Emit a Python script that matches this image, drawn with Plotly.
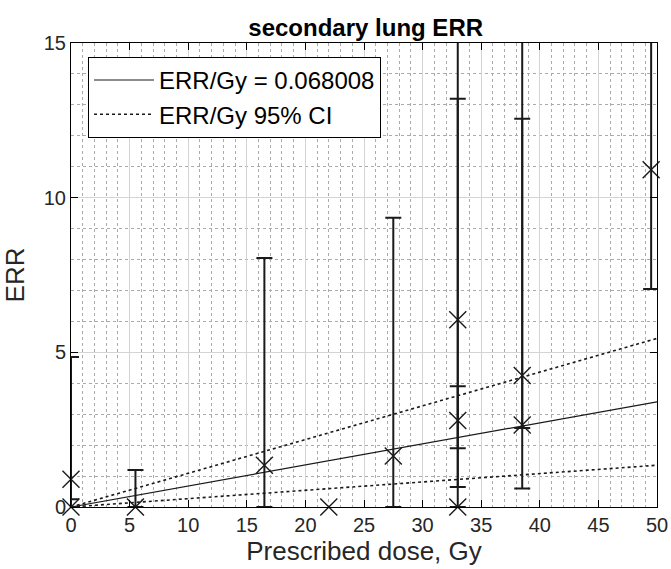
import plotly.graph_objects as go

# ---- data ----
dose = [0, 0, 5.5, 16.5, 22, 27.5, 33, 33, 33, 38.5, 38.5, 49.5]
err = [0, 0.9, 0, 1.35, 0, 1.65, 6.05, 2.8, 0, 4.25, 2.65, 10.9]
ci_low = [0, 0, 0, 0, None, 0, 1.9, 0.65, 0, 2.55, 0.6, 7.05]
ci_high = [0.25, 4.85, 1.2, 8.05, None, 9.35, 17.0, 13.2, 3.9, 16.5, 12.55, 16.0]

slope = 0.068008
slope_ci = [0.027, 0.109]
fit_x = [0, 50]

x_ticks = [0, 5, 10, 15, 20, 25, 30, 35, 40, 45, 50]
y_ticks = [0, 5, 10, 15]

INK = "#1a1a1a"
FONT = "Liberation Sans, Arial, Helvetica, sans-serif"

fig = go.Figure()

# fitted line
fig.add_trace(go.Scatter(
    x=fit_x, y=[slope * v for v in fit_x], mode="lines",
    line=dict(color=INK, width=1.2),
    name="ERR/Gy = 0.068008", showlegend=True, hoverinfo="skip"))

# confidence interval lines (one legend entry)
ci_x, ci_y = [], []
for s in slope_ci:
    ci_x += fit_x + [None]
    ci_y += [s * v for v in fit_x] + [None]
fig.add_trace(go.Scatter(
    x=ci_x, y=ci_y, mode="lines",
    line=dict(color=INK, width=1.6, dash="dot"),
    name="ERR/Gy 95% CI", showlegend=True, hoverinfo="skip"))

# error bars
ex, ey, eplus, eminus = [], [], [], []
for xv, yv, lo, hi in zip(dose, err, ci_low, ci_high):
    if lo is None:
        continue
    ex.append(xv); ey.append(yv)
    eplus.append(hi - yv); eminus.append(yv - lo)
fig.add_trace(go.Scatter(
    x=ex, y=ey, mode="markers",
    marker=dict(size=1, color="rgba(0,0,0,0)"),
    error_y=dict(type="data", symmetric=False, array=eplus, arrayminus=eminus,
                 color=INK, thickness=2, width=8),
    showlegend=False, cliponaxis=True, hoverinfo="skip"))

# point markers
fig.add_trace(go.Scatter(
    x=dose, y=err, mode="markers",
    marker=dict(symbol="x-thin", size=17, line=dict(color=INK, width=1.4)),
    showlegend=False, cliponaxis=False))

axis_common = dict(
    showline=True, linecolor="black", linewidth=1, mirror="ticks",
    ticks="inside", ticklen=7, tickcolor="black", tickwidth=1,
    showgrid=True, gridcolor="#d4d4d4", gridwidth=1, zeroline=False,
    tickfont=dict(family=FONT, size=20, color="#262626"),
    automargin=False,
)

fig.update_xaxes(
    range=[0, 50], tickmode="array", tickvals=x_ticks,
    ticktext=[str(v) for v in x_ticks],
    minor=dict(dtick=1, showgrid=True, gridcolor="#ababab", griddash="dot", gridwidth=1, ticks=""),
    title=dict(text="Prescribed dose, Gy", font=dict(family=FONT, size=26, color="#262626"), standoff=6),
    **axis_common)
fig.update_yaxes(
    range=[0, 15], tickmode="array", tickvals=y_ticks,
    ticktext=[str(v) for v in y_ticks],
    minor=dict(dtick=1, showgrid=True, gridcolor="#ababab", griddash="dot", gridwidth=1, ticks=""),
    title=dict(text="ERR", font=dict(family=FONT, size=26, color="#262626"), standoff=12),
    **axis_common)

fig.update_layout(
    width=671, height=569,
    margin=dict(l=71, r=14, t=43, b=62, autoexpand=False),
    paper_bgcolor="white", plot_bgcolor="white",
    title=dict(text="<b>secondary lung ERR</b>", x=0.545, xanchor="center",
               y=0.952, yanchor="middle",
               font=dict(family=FONT, size=24, color="black")),
    legend=dict(x=0.029, y=0.97, xanchor="left", yanchor="top",
                bgcolor="white", bordercolor="black", borderwidth=1,
                font=dict(family=FONT, size=24, color="black"),
                itemwidth=60, tracegroupgap=0),
    showlegend=True,
)

fig.write_html("out.html")
